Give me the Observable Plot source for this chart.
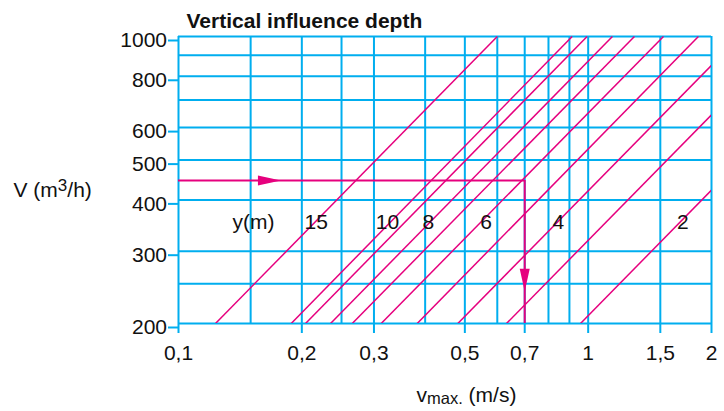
<!DOCTYPE html>
<html>
<head>
<meta charset="utf-8">
<script src="https://cdn.jsdelivr.net/npm/d3@7"></script>
<script src="https://cdn.jsdelivr.net/npm/@observablehq/plot@0.6"></script>
<style>
  html, body { margin: 0; padding: 0; background: #fff; }
</style>
</head>
<body>
<div id="chart"></div>
<script>
// ---- data ----
const title = "Vertical influence depth";
const yLabel = "V (m3/h)";
const xLabel = "vmax. (m/s)";

const xGrid = [0.1, 0.15, 0.2, 0.25, 0.3, 0.4, 0.5, 0.6, 0.7, 0.8, 0.9, 1, 1.5, 2];
const yGrid = [200, 250, 300, 400, 500, 600, 700, 800, 900, 1000];
const xTicks = [0.1, 0.2, 0.3, 0.5, 0.7, 1, 1.5, 2];
const xTickLabels = ["0,1", "0,2", "0,3", "0,5", "0,7", "1", "1,5", "2"];
const yTicks = [200, 300, 400, 500, 600, 800, 1000];

// influence depth lines y(m): velocity at V=200 and at V=1000 m3/h
const depths = [15, 10, 9, 8, 7, 6, 5, 4, 3, 2];
const vAt200 = [0.1231, 0.1884, 0.2042, 0.2350, 0.2655, 0.3124, 0.3825, 0.4806, 0.6318, 0.9577];
const vAt1000 = [0.600, 0.914, 0.994, 1.146, 1.297, 1.527, 1.858, 2.345, 3.083, 4.672];

// labels on the lines
const labelTexts = ["y(m)", "15", "10", "8", "6", "4", "2"];
const labelV = [0.1524, 0.2168, 0.3236, 0.4072, 0.5637, 0.8451, 1.7033];
const labelQ = 353;

// worked example
const exampleQ = 446;
const exampleV = 0.7;
const arrowHeadV = [0.1667, 0.7];
const arrowHeadQ = [446, 255];
const arrowHeadRotate = [0, 90];

// ---- styling ----
const blue = "#00aeef";
const magenta = "#e6007e";
const ink = "#111";
const font = "'Liberation Sans', Arial, Helvetica, sans-serif";

const lines = depths.map((d, i) => ({depth: d, a: vAt200[i], b: vAt1000[i]}));
const labels = labelTexts.map((t, i) => ({t, v: labelV[i]}));
const heads = arrowHeadV.map((v, i) => ({v, q: arrowHeadQ[i], r: arrowHeadRotate[i]}));

const headSymbol = {
  draw(context) {
    context.moveTo(11.5, 0);
    context.lineTo(-11.5, -5);
    context.lineTo(-11.5, 5);
    context.closePath();
  }
};

const chart = Plot.plot({
  width: 724,
  height: 411,
  marginLeft: 178,
  marginRight: 13,
  marginTop: 36,
  marginBottom: 88,
  style: {fontFamily: font, fontSize: "21px", color: ink, background: "#fff", overflow: "visible"},
  x: {type: "log", domain: [0.1, 2]},
  y: {type: "log", domain: [200, 1000]},
  marks: [
    Plot.ruleX(xGrid, {stroke: blue, strokeWidth: 2}),
    Plot.ruleY(yGrid, {stroke: blue, strokeWidth: 2}),
    Plot.axisX({
      ticks: xTicks,
      tickFormat: (d) => xTickLabels[xTicks.indexOf(d)],
      tickSize: 10,
      tickPadding: 12,
      stroke: blue,
      strokeWidth: 2,
      strokeOpacity: 1,
      fill: ink,
      fontSize: 21,
      label: null
    }),
    Plot.axisY({
      ticks: yTicks,
      tickFormat: (d) => String(d),
      tickSize: 10,
      tickPadding: 1.5,
      stroke: blue,
      strokeWidth: 2,
      strokeOpacity: 1,
      fill: ink,
      fontSize: 21,
      dy: 4,
      label: null
    }),
    Plot.link(lines, {x1: "a", y1: 200, x2: "b", y2: 1000, stroke: magenta, strokeWidth: 1.5, clip: true}),
    Plot.ruleY([exampleQ], {x1: 0.1, x2: exampleV, stroke: magenta, strokeWidth: 2}),
    Plot.ruleX([exampleV], {y1: 200, y2: exampleQ, stroke: magenta, strokeWidth: 2}),
    Plot.dot(heads, {x: "v", y: "q", rotate: "r", symbol: headSymbol, r: 5, fill: magenta, stroke: "none"}),
    Plot.text(labels, {x: "v", y: labelQ, text: "t", fontSize: 21, fill: ink}),
    Plot.text([title], {frameAnchor: "top-left", textAnchor: "start", lineAnchor: "middle", dx: 8, dy: -15.7, fontSize: 21, fontWeight: "bold", fill: ink}),
    Plot.text([yLabel], {frameAnchor: "left", textAnchor: "start", lineAnchor: "middle", dx: -165, dy: 10.5, fontSize: 21, fill: ink}),
    Plot.text([xLabel], {frameAnchor: "bottom-left", textAnchor: "start", lineAnchor: "middle", dx: 238, dy: 71.3, fontSize: 21, fill: ink})
  ]
});

// rich text: superscript and subscript
d3.select(chart).selectAll("text").each(function () {
  const el = d3.select(this);
  const s = this.textContent;
  if (s === yLabel) {
    el.text(null);
    el.append("tspan").text("V (m");
    el.append("tspan").attr("font-size", 17).attr("dy", -6.7).text("3");
    el.append("tspan").attr("dy", 6.7).text("/h)");
  } else if (s === xLabel) {
    el.text(null);
    el.append("tspan").text("v");
    el.append("tspan").attr("font-size", 16.5).attr("dy", 2).text("max.");
    el.append("tspan").attr("dy", -2).text(" (m/s)");
  }
});

document.getElementById("chart").appendChild(chart);
</script>
</body>
</html>
